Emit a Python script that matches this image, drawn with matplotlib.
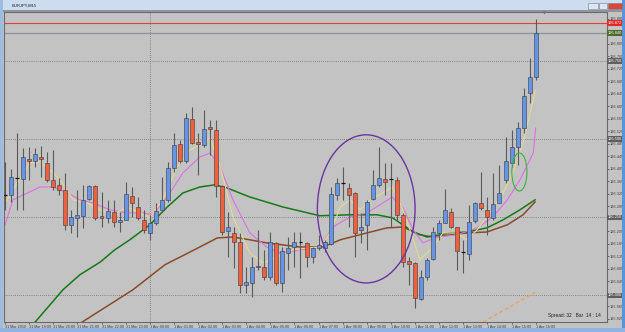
import matplotlib
matplotlib.use('Agg')
import matplotlib.pyplot as plt
from matplotlib.patches import Rectangle, Ellipse

plt.rcParams['font.family'] = ['Liberation Sans', 'DejaVu Sans']

# EURJPY M15 candles, 31 Mar 18:00 .. 1 Apr 16:00
opens = [126.322, 126.322, 126.376, 126.373, 126.437, 126.431, 126.443, 126.424, 126.370, 126.354,
         126.338, 126.226, 126.248, 126.255, 126.309, 126.351, 126.255, 126.248, 126.267, 126.235,
         126.242, 126.318, 126.283, 126.242, 126.200, 126.232, 126.274, 126.306, 126.408, 126.485,
         126.431, 126.565, 126.491, 126.482, 126.539, 126.530, 126.351, 126.206, 126.200, 126.171,
         126.034, 126.040, 126.095, 126.091, 126.059, 126.168, 126.040, 126.136, 126.155, 126.171,
         126.168, 126.123, 126.152, 126.152, 126.165, 126.322, 126.360, 126.344, 126.328, 126.210,
         126.226, 126.309, 126.354, 126.373, 126.373, 126.370, 126.258, 126.110, 126.104, 125.989,
         126.059, 126.117, 126.200, 126.232, 126.267, 126.219, 126.140, 126.133, 126.239, 126.296,
         126.274, 126.248, 126.296, 126.370, 126.424, 126.475, 126.536, 126.648, 126.699]
highs = [126.427, 126.405, 126.520, 126.472, 126.475, 126.472, 126.479, 126.459, 126.466, 126.376,
         126.392, 126.274, 126.338, 126.354, 126.354, 126.354, 126.331, 126.306, 126.306, 126.267,
         126.363, 126.347, 126.315, 126.274, 126.258, 126.296, 126.380, 126.427, 126.520, 126.498,
         126.584, 126.603, 126.520, 126.594, 126.562, 126.562, 126.354, 126.267, 126.219, 126.200,
         126.091, 126.123, 126.210, 126.146, 126.203, 126.171, 126.155, 126.187, 126.203, 126.203,
         126.171, 126.155, 126.194, 126.178, 126.347, 126.376, 126.411, 126.360, 126.331, 126.264,
         126.306, 126.402, 126.475, 126.424, 126.424, 126.380, 126.264, 126.123, 126.107, 126.082,
         126.120, 126.219, 126.242, 126.341, 126.280, 126.219, 126.178, 126.290, 126.299, 126.395,
         126.315, 126.392, 126.418, 126.507, 126.530, 126.555, 126.664, 126.760, 126.885]
lows = [126.274, 126.299, 126.274, 126.274, 126.370, 126.411, 126.380, 126.363, 126.338, 126.322,
        126.210, 126.200, 126.187, 126.216, 126.306, 126.242, 126.219, 126.232, 126.219, 126.203,
        126.240, 126.251, 126.242, 126.200, 126.178, 126.226, 126.267, 126.299, 126.395, 126.424,
        126.424, 126.486, 126.386, 126.475, 126.450, 126.315, 126.194, 126.123, 126.088, 126.008,
        126.008, 125.995, 126.082, 126.050, 126.050, 126.034, 126.011, 126.082, 126.091, 126.056,
        126.091, 126.104, 126.146, 126.139, 126.162, 126.306, 126.306, 126.219, 126.123, 126.168,
        126.146, 126.306, 126.347, 126.322, 126.219, 126.242, 126.091, 126.034, 125.960, 125.986,
        126.050, 126.114, 126.178, 126.232, 126.216, 126.082, 126.072, 126.114, 126.232, 126.274,
        126.194, 126.242, 126.296, 126.360, 126.411, 126.418, 126.520, 126.616, 126.690]
closes = [126.322, 126.380, 126.376, 126.443, 126.431, 126.453, 126.437, 126.370, 126.347, 126.338,
          126.226, 126.251, 126.258, 126.306, 126.351, 126.248, 126.248, 126.270, 126.235, 126.242,
          126.325, 126.296, 126.248, 126.210, 126.232, 126.270, 126.306, 126.408, 126.482, 126.431,
          126.568, 126.488, 126.485, 126.533, 126.533, 126.351, 126.203, 126.219, 126.171, 126.034,
          126.043, 126.091, 126.091, 126.059, 126.171, 126.040, 126.143, 126.152, 126.171, 126.168,
          126.123, 126.152, 126.160, 126.171, 126.325, 126.360, 126.357, 126.322, 126.200, 126.219,
          126.299, 126.354, 126.376, 126.363, 126.373, 126.258, 126.107, 126.101, 125.992, 126.059,
          126.114, 126.203, 126.232, 126.274, 126.219, 126.143, 126.140, 126.235, 126.296, 126.280,
          126.251, 126.293, 126.328, 126.431, 126.475, 126.536, 126.639, 126.699, 126.840]

# moving averages (bar index, price)
ma_fast_x = [0, 2, 4.1, 5.8, 7.5, 9.1, 11.3, 13.6, 15.8, 17.9, 20.2, 22.4, 24, 26.2, 28.5, 30.7, 32.8, 34,
             35.7, 37.8, 40.6, 42.8, 45.1, 47.8, 50.1, 52.2, 53.9, 55.6, 57.2, 58.9, 60.5, 62.7, 64.2,
             66, 67.7, 68.8, 71, 72.6, 75, 76.6, 78.3, 80.4, 82.6, 84.2, 85.9, 87.6, 88]
ma_fast_y = [126.296, 126.360, 126.424, 126.427, 126.402, 126.370, 126.306, 126.296, 126.274, 126.258,
             126.283, 126.264, 126.248, 126.306, 126.411, 126.466, 126.488, 126.504, 126.411, 126.251,
             126.136, 126.104, 126.123, 126.146, 126.152, 126.155, 126.200, 126.283, 126.306, 126.274,
             126.306, 126.328, 126.347, 126.274, 126.178, 126.114, 126.155, 126.200, 126.200, 126.178,
             126.210, 126.264, 126.328, 126.392, 126.488, 126.626, 126.658]
ma_mid_x = [0, 1.3, 5.8, 8, 10.3, 12.4, 14.6, 17.4, 20.2, 22.9, 24.5, 26.9, 29.5, 32.3, 34, 35.7, 37.8,
            40.6, 43.4, 45.6, 48.9, 52.2, 54.4, 57.2, 60, 62.2, 64.2, 66, 67.7, 69.3, 71.6, 75, 78.3,
            80.9, 83.3, 85.4, 87.6, 88]
ma_mid_y = [126.226, 126.306, 126.347, 126.347, 126.328, 126.306, 126.296, 126.274, 126.264, 126.264,
            126.258, 126.315, 126.392, 126.443, 126.456, 126.411, 126.306, 126.200, 126.155, 126.136,
            126.146, 126.155, 126.219, 126.251, 126.264, 126.290, 126.315, 126.280, 126.210, 126.168,
            126.187, 126.194, 126.216, 126.251, 126.306, 126.370, 126.456, 126.536]
ma_green_x = [5, 9.6, 12.4, 15.8, 18.2, 20.7, 24, 26.9, 29.5, 32.3, 34.8, 36.8, 40.6, 46.1, 52.2, 57.2,
              61.7, 64.3, 67.7, 70, 73.8, 76.6, 79.9, 82.6, 85.4, 87.9]
ma_green_y = [125.915, 126.018, 126.066, 126.107, 126.146, 126.178, 126.226, 126.283, 126.328, 126.347,
              126.354, 126.344, 126.315, 126.283, 126.255, 126.258, 126.258, 126.248, 126.203, 126.187,
              126.200, 126.203, 126.216, 126.242, 126.274, 126.306]
ma_brown_x = [12.8, 21.2, 26.5, 32.3, 35.2, 37.8, 40.6, 43.4, 48.9, 52.7, 55.6, 60, 63.3, 66, 68.8, 71,
              76.6, 79.9, 83.3, 85.9, 87.9]
ma_brown_y = [125.915, 126.018, 126.098, 126.155, 126.184, 126.187, 126.178, 126.168, 126.155, 126.155,
              126.178, 126.200, 126.216, 126.219, 126.194, 126.187, 126.200, 126.203, 126.226, 126.258,
              126.299]
ma_slow_x = [79.3, 87.9]
ma_slow_y = [125.915, 126.010]

time_ticks = list(range(0, 89, 4))
time_labels = ['31 Mar 2010', '31 Mar 19:00', '31 Mar 20:00', '31 Mar 21:00', '31 Mar 22:00', '31 Mar 23:00',
               '1 Apr 00:00', '1 Apr 01:00', '1 Apr 02:00', '1 Apr 03:00', '1 Apr 04:00', '1 Apr 05:00',
               '1 Apr 06:00', '1 Apr 07:00', '1 Apr 08:00', '1 Apr 09:00', '1 Apr 10:00', '1 Apr 11:00',
               '1 Apr 12:00', '1 Apr 13:00', '1 Apr 14:00', '1 Apr 15:00', '1 Apr 16:00']
price_ticks = [125.925 + 0.04 * k for k in range(25)]
hlines = [126.75, 126.50, 126.25, 126.00]
ask = 126.872
bid = 126.840

bg = '#c3c3c3'
W, H = 625, 332
fig = plt.figure(figsize=(6.25, 3.32), dpi=100, facecolor=bg)
ax = fig.add_axes([4 / W, 10 / H, 603 / W, 310 / H])
ax.set_facecolor(bg)

# window chrome
fig.patches.append(Rectangle((0, 1 - 10 / H), 1, 10 / H, transform=fig.transFigure,
                             facecolor='#cddcef', edgecolor='none'))
fig.patches.append(Rectangle((0, 1 - 12 / H), 1, 2 / H, transform=fig.transFigure,
                             facecolor='#8e949c', edgecolor='none'))
fig.patches.append(Rectangle((0, 0), 3 / W, 1, transform=fig.transFigure, facecolor='#9dbbe3', edgecolor='none'))
fig.patches.append(Rectangle((1 - 3 / W, 0), 3 / W, 1, transform=fig.transFigure, facecolor='#5b93d8', edgecolor='none'))
fig.patches.append(Rectangle((0, 0), 1, 4 / H, transform=fig.transFigure, facecolor='#8fb4e3', edgecolor='none'))
for x0, w, c in [(588, 10, '#dfe6ef'), (599, 8, '#dfe6ef'), (608, 14, '#d9473a')]:
    fig.patches.append(Rectangle((x0 / W, 1 - 9 / H), w / W, 6 / H, transform=fig.transFigure,
                                 facecolor=c, edgecolor='#6d7d92', lw=0.4))
fig.text(12 / W, 1 - 5.5 / H, 'EURJPY,M15', fontsize=3.0, va='center', color='#1a1a1a')
fig.text(545 / W, 1 - 13.5 / H, '\u25bc', fontsize=3, ha='center', va='center', color='#707070',
         family='DejaVu Sans')
fig.text(548 / W, 1 - 316 / H, 'Spread: 32   Bar  14 : 14', fontsize=3.4, va='center', color='#202020')

# horizontal / vertical lines
for h in hlines:
    ax.axhline(h, color='#6f6f6f', lw=0.6, ls=(0, (1, 1.5)))
ax.axvline(24, color='#6f6f6f', lw=0.6, ls=(0, (1, 1.5)))
ax.axhline(ask, color='#e0403a', lw=0.8)
ax.axhline(bid, color='#8d96a3', lw=1.0)

# moving averages
ax.plot(ma_brown_x, ma_brown_y, color='#8a4b2a', lw=1.1)
ax.plot(ma_green_x, ma_green_y, color='#157a15', lw=1.1)
ax.plot(ma_slow_x, ma_slow_y, color='#f0a050', lw=0.9, ls=(0, (3, 2)))
ax.plot(ma_mid_x, ma_mid_y, color='#e070e0', lw=0.8)
ax.plot(ma_fast_x, ma_fast_y, color='#e6d98c', lw=0.8)

# candles
for i in range(len(opens)):
    o, h, l, c = opens[i], highs[i], lows[i], closes[i]
    ax.vlines(i, l, h, color='#5a5a5a', lw=0.8, zorder=3)
    if abs(c - o) < 0.0035:
        ax.hlines(o, i - 0.33, i + 0.33, color='#101010', lw=0.9, zorder=4)
        continue
    col = '#6495e8' if c > o else '#f0603c'
    ax.bar(i, abs(c - o), bottom=min(o, c), width=0.66, color=col,
           edgecolor='#3a3a3a', lw=0.4, zorder=4)

# annotations
ax.add_patch(Ellipse((59.9, 126.277), 16.2, 0.474, fill=False, edgecolor='#6a35a0', lw=1.0, zorder=5))
ax.add_patch(Ellipse((85.3, 126.395), 2.5, 0.122, fill=False, edgecolor='#3cb043', lw=0.8, zorder=5))

# price labels on the axis
box_vals = [ask, bid] + hlines
for val, fc in [(ask, '#e02828'), (bid, '#4f6b2c')] + [(h, '#5f5f5f') for h in hlines]:
    ax.annotate('%.3f' % val, xy=(1.0, val), xycoords=('axes fraction', 'data'),
                xytext=(0.6, 0), textcoords='offset points', fontsize=2.8, color='white',
                va='center', ha='left', annotation_clip=False, zorder=6,
                bbox=dict(boxstyle='square,pad=0.2', fc=fc, ec='none'))

ax.set_xlim(-0.17, 99.83)
ax.set_ylim(125.915, 126.907)
ax.yaxis.tick_right()
ax.set_yticks(price_ticks)
# labels covered by a price box are not shown
ax.set_yticklabels(['' if min(abs(p - b) for b in box_vals) < 0.01 else '%.3f' % p for p in price_ticks])
ax.set_xticks(time_ticks)
ax.set_xticklabels(time_labels, ha='left')
ax.tick_params(axis='y', length=1.5, width=0.5, pad=0.6, labelsize=2.8, colors='#404040')
ax.tick_params(axis='x', length=1.5, width=0.5, pad=0.5, labelsize=2.7, colors='#404040')
for s in ax.spines.values():
    s.set_color('#6a6a6a')
    s.set_linewidth(0.8)

fig.savefig('out.png', dpi=100, facecolor=bg)
